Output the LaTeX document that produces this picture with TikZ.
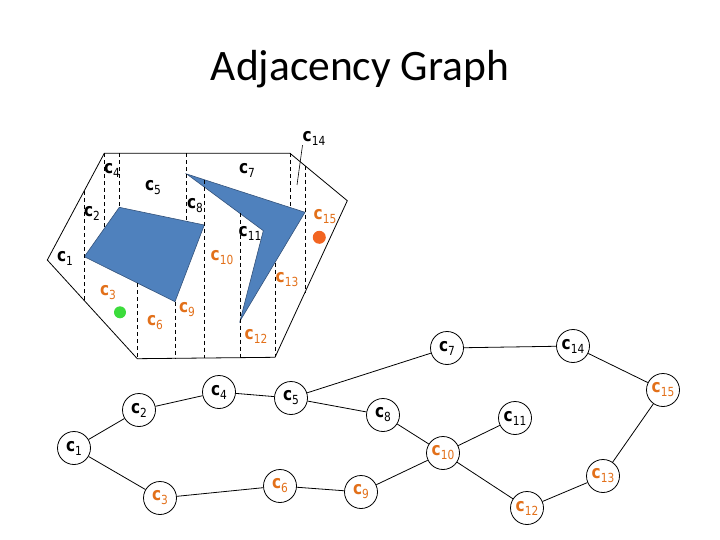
\documentclass[tikz,border=0pt]{standalone}
\usepackage{fontspec}
\setmainfont{Carlito}
\newfontfamily\labfont[FakeStretch=0.85]{DejaVu Sans}
\usepackage{tikz}
\definecolor{obst}{RGB}{79,129,189}
\definecolor{obstline}{RGB}{52,82,122}
\definecolor{cello}{RGB}{226,112,26}
\definecolor{dotor}{RGB}{242,101,34}
\definecolor{dotgr}{RGB}{60,220,60}
\newcommand{\cn}[1]{{\labfont\fontsize{18}{18}\selectfont\textbf{c}\raisebox{-4pt}{\fontsize{12.5}{12.5}\selectfont#1}}}

\begin{document}
\begin{tikzpicture}[x=1pt,y=-1pt,
  cell/.style={draw,circle,minimum size=33pt,inner sep=0pt,line width=0.8pt},
  lab/.style={inner sep=0pt},
  wall/.style={line width=0.8pt},
  cut/.style={dashed,dash pattern=on 4pt off 3pt,line width=0.8pt},
  obstacle/.style={fill=obst,draw=obstline,line width=0.6pt}]
\useasboundingbox (0,0) rectangle (720,540);
\node[anchor=base] (title) at (360,81) {\fontsize{43.5}{43.5}\selectfont Adjacency Graph};
% free space with the two obstacles
\draw[wall] (47.3,260) -- (104.3,153.3) -- (290,153.3) -- (347.3,200.7) -- (275,357.3) -- (137.3,358.7) -- cycle;
\draw[obstacle] (84.3,256.7) -- (119.3,207.3) -- (204.3,225) -- (175,301.7) -- cycle;
\draw[obstacle] (186.7,174) -- (305,212.3) -- (240,321) -- (263.3,230.7) -- cycle;
\foreach \x/\ya/\yb in {84.3/191.3/300.5, 104.3/153.3/228.5, 119.3/153.3/207.3, 137.3/283/358.7,
  175/301.7/358.3, 186.7/153.3/221.3, 204.3/179.7/358, 240/213.5/357.8, 275/262.5/357.3,
  290/153.3/207.4, 305/165.7/292.3}
  \draw[cut] (\x,\ya) -- (\x,\yb);
\fill[dotgr] (120,312.3) circle (6pt);
\fill[dotor] (319.3,237.3) circle (6.5pt);
\foreach \n/\x/\y/\col in {1/65/258/black, 2/92/213/black, 3/108/293/cello, 4/112/170/black,
  5/153/188/black, 6/155/323/cello, 7/247/170/black, 8/195/206/black, 9/187/310/cello,
  10/222/258/cello, 11/250/233/black, 12/256/336/cello, 13/287/280/cello, 14/314/138/black,
  15/325/217/cello}
  \node[lab,text=\col] (l\n) at (\x,\y) {\cn{\n}};
\coordinate (p14) at (297,185);
\draw[line width=0.6pt] (l14.south west) -- (p14);
% adjacency graph
\foreach \n/\x/\y/\col in {1/74/448/black, 2/139/410/black, 3/160/498/cello, 4/219/392/black,
  5/291/398/black, 6/280/486/cello, 7/447/348/black, 8/383/415/black, 9/361/492/cello,
  10/443/453/cello, 11/515/418/black, 12/527/508/cello, 13/603/476/cello, 14/573/346/black,
  15/663/390/cello}
  \node[cell,text=\col] (c\n) at (\x,\y) {\cn{\n}};
\foreach \a/\b in {1/2, 1/3, 2/4, 4/5, 5/7, 5/8, 7/14, 14/15, 15/13, 13/12, 12/10, 10/11, 10/8, 10/9, 9/6, 6/3}
  \draw[line width=0.8pt] (c\a) -- (c\b);
\end{tikzpicture}
\end{document}
